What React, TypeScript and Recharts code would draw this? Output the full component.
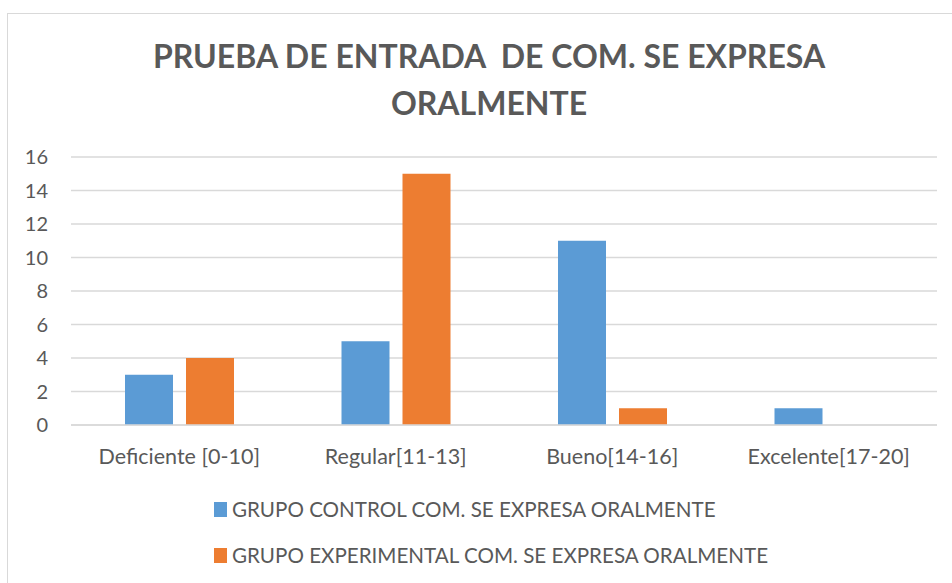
import { Bar, BarChart, CartesianGrid, Legend, XAxis, YAxis } from "recharts";

const categories = [
  "Deficiente [0-10]",
  "Regular[11-13]",
  "Bueno[14-16]",
  "Excelente[17-20]",
];
const controlValues = [3, 5, 11, 1];
const experimentalValues = [4, 15, 1, 0];
const yTicks = [0, 2, 4, 6, 8, 10, 12, 14, 16];

const CONTROL = "GRUPO CONTROL COM. SE EXPRESA ORALMENTE";
const EXPERIMENTAL = "GRUPO EXPERIMENTAL COM. SE EXPRESA ORALMENTE";

const BLUE = "#5B9BD5";
const ORANGE = "#ED7D31";
const TEXT = "#595959";
const GRID = "#D9D9D9";
const FONT = "Lato, 'Noto Sans', sans-serif";

const rows = categories.map((name, i) => ({
  name,
  control: controlValues[i],
  experimental: experimentalValues[i],
}));

function LegendBox() {
  const items = [
    { label: CONTROL, color: BLUE },
    { label: EXPERIMENTAL, color: ORANGE },
  ];
  return (
    <div style={{ fontFamily: FONT, fontSize: 20.6, color: TEXT }}>
      {items.map((it) => (
        <div
          key={it.label}
          style={{ display: "flex", alignItems: "center", height: 46 }}
        >
          <span
            style={{
              width: 13,
              height: 15,
              background: it.color,
              marginRight: 5,
              display: "inline-block",
            }}
          />
          <span>{it.label}</span>
        </div>
      ))}
    </div>
  );
}

export default function App() {
  return (
    <div
      style={{
        position: "fixed",
        left: 0,
        top: 0,
        width: 952,
        height: 583,
        background: "#fff",
        overflow: "hidden",
      }}
    >
      <div
        style={{
          position: "absolute",
          left: 7,
          top: 13,
          width: 980,
          height: 600,
          border: `1px solid ${GRID}`,
        }}
      />
      <div
        style={{
          position: "absolute",
          left: 0,
          top: 32,
          width: 978,
          textAlign: "center",
          fontFamily: FONT,
          fontWeight: 700,
          fontSize: 32,
          lineHeight: "47px",
          color: TEXT,
        }}
      >
        PRUEBA DE ENTRADA&nbsp; DE COM. SE EXPRESA
        <br />
        ORALMENTE
      </div>
      <div style={{ position: "absolute", left: 0, top: 0 }}>
        <BarChart
          width={952}
          height={583}
          data={rows}
          margin={{ top: 157, right: 15, bottom: 128, left: 0 }}
          barSize={48}
          barGap={13}
        >
          <CartesianGrid vertical={false} stroke={GRID} strokeWidth={1.5} />
          <XAxis
            dataKey="name"
            axisLine={{ stroke: GRID, strokeWidth: 1.5 }}
            tickLine={false}
            tickMargin={18}
            tick={{ fill: TEXT, fontSize: 21.5, fontFamily: FONT }}
            interval={0}
          />
          <YAxis
            domain={[0, 16]}
            ticks={yTicks}
            width={71}
            axisLine={false}
            tickLine={false}
            tickSize={0}
            tickMargin={23}
            tick={{ fill: TEXT, fontSize: 20, fontFamily: FONT }}
          />
          <Legend
            layout="vertical"
            align="center"
            verticalAlign="middle"
            wrapperStyle={{ left: 214, top: 486, width: "auto" }}
            content={() => <LegendBox />}
          />
          <Bar
            dataKey="control"
            name={CONTROL}
            fill={BLUE}
            isAnimationActive={false}
          />
          <Bar
            dataKey="experimental"
            name={EXPERIMENTAL}
            fill={ORANGE}
            isAnimationActive={false}
          />
        </BarChart>
      </div>
    </div>
  );
}
